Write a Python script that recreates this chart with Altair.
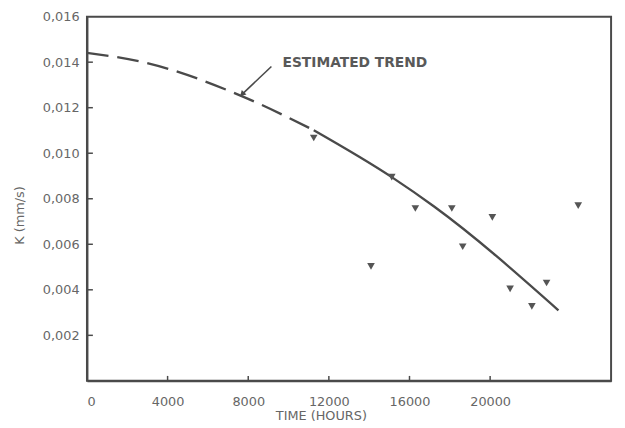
import altair as alt
import pandas as pd

# Measured data points (time in hours, K in mm/s)
pt_time = [11250, 14090, 15120, 16290, 18100, 18640, 20110, 20990, 22070, 22800, 24370]
pt_k = [0.01067, 0.00503, 0.00895, 0.00757, 0.00757, 0.00589, 0.00718, 0.00404, 0.00327, 0.00430, 0.00770]

# Estimated trend: dashed (extrapolated) part and solid part
dash_time = [0, 2900, 7440, 11250]
dash_k = [0.01441, 0.01398, 0.01260, 0.01101]
solid_time = [11250, 15120, 17220, 23390]
solid_k = [0.01101, 0.00895, 0.00766, 0.00310]

# Annotation
note_text = ["ESTIMATED TREND"]
note_time = [9700]
note_k = [0.01394]
arrow_time = [9150, 7730]
arrow_k = [0.01381, 0.01262]

x_ticks = [4000, 8000, 12000, 16000, 20000]
x_labels = [0, 4000, 8000, 12000, 16000, 20000]
y_ticks = [0.002, 0.004, 0.006, 0.008, 0.010, 0.012, 0.014]
y_labels = [0.002, 0.004, 0.006, 0.008, 0.010, 0.012, 0.014, 0.016]

W, H = 531, 369
FONT = "DejaVu Sans"
INK = "#4a4a4a"
TXT = "#666666"

xs = alt.Scale(domain=[0, 26000], nice=False, zero=False)
ys = alt.Scale(domain=[0, 0.016], nice=False, zero=False)

x_axis = alt.Axis(
    values=x_labels, ticks=False, grid=False, labelPadding=15,
    labelExpr="format(datum.value, 'd')",
    title="TIME (HOURS)", titleX=237, titleY=35, titleBaseline="middle",
    titleAnchor="start", titleAlign="center",
)
y_axis = alt.Axis(
    values=y_labels, ticks=False, grid=False, labelPadding=8,
    labelExpr="replace(format(datum.value, '.3f'), '.', ',')",
    title="K (mm/s)", titleX=-68, titleY=201, titleAngle=270,
    titleBaseline="middle", titleAlign="center", titleAnchor="start",
)

def X():
    return alt.X("x:Q", scale=xs, axis=x_axis)

def Y():
    return alt.Y("y:Q", scale=ys, axis=y_axis)

pts = pd.DataFrame({"x": pt_time, "y": pt_k})
dash = pd.DataFrame({"x": dash_time, "y": dash_k})
solid = pd.DataFrame({"x": solid_time, "y": solid_k})
note = pd.DataFrame({"x": note_time, "y": note_k, "t": note_text})
arrow = pd.DataFrame({"x": arrow_time, "y": arrow_k})
head = pd.DataFrame({"x": arrow_time[-1:], "y": arrow_k[-1:]})
xt = pd.DataFrame({"x": x_ticks})
yt = pd.DataFrame({"y": y_ticks})

points_layer = alt.Chart(pts).mark_point(
    shape="triangle-down", filled=True, size=60, color="#555555", opacity=1
).encode(x=X(), y=Y())

dash_layer = alt.Chart(dash).mark_line(
    color=INK, strokeWidth=2.4, strokeDash=[22, 9], interpolate="monotone"
).encode(x=X(), y=Y())

solid_layer = alt.Chart(solid).mark_line(
    color=INK, strokeWidth=2.4, interpolate="monotone"
).encode(x=X(), y=Y())

arrow_layer = alt.Chart(arrow).mark_line(color=INK, strokeWidth=1.6).encode(x=X(), y=Y())
head_layer = alt.Chart(head).mark_point(
    shape="triangle", filled=True, size=45, angle=225, color=INK, opacity=1
).encode(x=X(), y=Y())

note_layer = alt.Chart(note).mark_text(
    align="left", baseline="middle", font=FONT, fontSize=14, fontWeight="bold",
    color="#595959"
).encode(x=X(), y=Y(), text="t:N")

xtick_layer = alt.Chart(xt).mark_rule(color=INK, strokeWidth=1.5).encode(
    x=X(), y=alt.value(H), y2=alt.value(H - 5)
)
ytick_layer = alt.Chart(yt).mark_rule(color=INK, strokeWidth=1.5).encode(
    y=Y(), x=alt.value(0), x2=alt.value(6)
)

chart = alt.layer(
    dash_layer, solid_layer, arrow_layer, head_layer, note_layer,
    xtick_layer, ytick_layer, points_layer
).properties(
    width=W, height=H,
    autosize=alt.AutoSizeParams(type="none"),
    padding={"left": 80, "top": 6, "right": 6, "bottom": 45},
    background="white",
).configure_view(
    stroke=INK, strokeWidth=2
).configure_axis(
    domainColor=INK, domainWidth=2, labelFont=FONT, labelFontSize=13,
    labelColor=TXT, titleFont=FONT, titleFontSize=13, titleColor=TXT,
    titleFontWeight="normal",
)

chart.save("out.html", embed_options={"renderer": "svg", "actions": False})
